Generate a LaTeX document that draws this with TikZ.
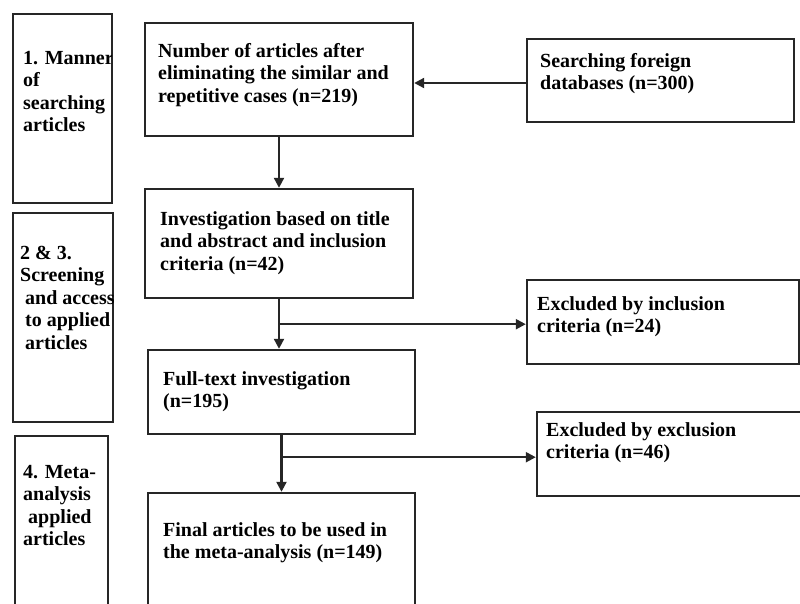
\documentclass[tikz,border=0pt]{standalone}
\usepackage{fontspec}
\setmainfont{Liberation Serif}
\usetikzlibrary{arrows.meta,fit,calc}
\begin{document}
\begin{tikzpicture}[x=1pt,y=-1pt,
  box/.style={draw=black!85, line width=2.4pt, inner sep=0pt},
  txt/.style={anchor=north west, inner sep=0pt, align=left, font=\fontsize{20}{22.5}\selectfont\bfseries},
  arr/.style={draw=black!85, line width=2.2pt, -{Triangle[length=10pt,width=10pt]}},
  ln/.style={line width=2.2pt}]
\clip (0,0) rectangle (800,603);
% left stage boxes
\node[box, fit={(13,14) (112,203)}] (l1) {};
\node[box, fit={(13,213) (113,422)}] (l2) {};
\node[box, fit={(15,436) (108,640)}] (l3) {};
% main boxes
\node[box, fit={(145,23) (413,136)}] (m1) {};
\node[box, fit={(145,189) (413,298)}] (m2) {};
\node[box, fit={(148,350) (415,434)}] (m3) {};
\node[box, fit={(148,493) (415,640)}] (m4) {};
% right boxes
\node[box, fit={(527,39) (794,122)}] (r1) {};
\node[box, fit={(527,280) (799,364)}] (r2) {};
\node[box, fit={(537,412) (830,496)}] (r3) {};
% texts
\begin{scope}
\clip (l1.north west) rectangle ([xshift=-2pt]l1.south east);
\node[txt] (tl1) at (23,48.25) {\strut 1. Manner\\of\\searching\\articles};
\end{scope}
\begin{scope}
\clip (l2.north west) rectangle ([xshift=-1pt]l2.south east);
\node[txt] (tl2) at (20,243.25) {\strut 2 \& 3.\\Screening\\\hspace*{5pt}and access\\\hspace*{5pt}to applied\\\hspace*{5pt}articles};
\end{scope}
\node[txt] (tl3) at (23,462.25) {\strut 4. Meta-\\analysis\\\hspace*{5pt}applied\\articles};
\node[txt] (tm1) at (158,41.25) {\strut Number of articles after\\eliminating the similar and\\repetitive cases (n=219)};
\node[txt] (tm2) at (160,209.25) {\strut Investigation based on title\\and abstract and inclusion\\criteria (n=42)};
\node[txt] (tm3) at (163,369.25) {\strut Full-text investigation\\(n=195)};
\node[txt] (tm4) at (163,520.25) {\strut Final articles to be used in\\the meta-analysis (n=149)};
\node[txt] (tr1) at (540,51.25) {\strut Searching foreign\\databases (n=300)};
\node[txt] (tr2) at (537,294.25) {\strut Excluded by inclusion\\criteria (n=24)};
\node[txt] (tr3) at (546,420.25) {\strut Excluded by exclusion\\criteria (n=46)};
% connectors
\coordinate (a1) at ($(r1.west)+(0,2.5)$);
\draw[arr] (a1) -- (a1 -| m1.east);
\draw[arr] (m1.south) -- (m1.south |- m2.north);
\draw[arr] (m2.south) -- (m2.south |- m3.north);
\coordinate (b1) at ($(m2.south)+(0,25)$);
\draw[arr] (b1) -- (b1 -| r2.west);
\draw[arr] (m3.south) -- (m3.south |- m4.north);
\coordinate (b2) at ($(m3.south)+(0,22)$);
\draw[arr] (b2) -- (b2 -| r3.west);
\end{tikzpicture}
\end{document}
